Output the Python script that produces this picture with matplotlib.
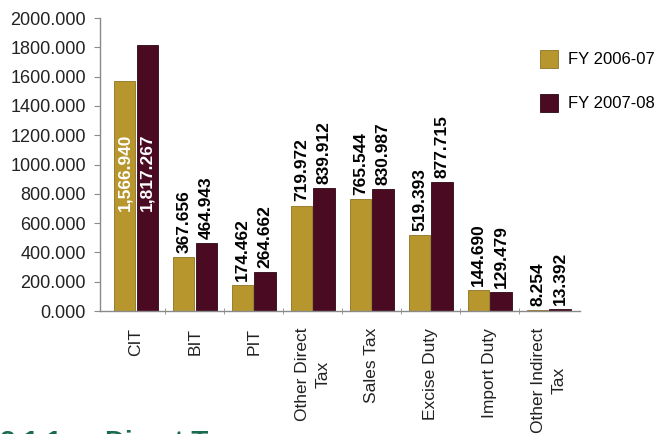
import matplotlib.pyplot as plt
import numpy as np

plt.rcParams['font.family'] = ['Liberation Sans', 'DejaVu Sans']

categories = ['CIT', 'BIT', 'PIT', 'Other Direct\nTax', 'Sales Tax',
              'Excise Duty', 'Import Duty', 'Other Indirect\nTax']
fy0607 = [1566.940, 367.656, 174.462, 719.972, 765.544, 519.393, 144.690, 8.254]
fy0708 = [1817.267, 464.943, 264.662, 839.912, 830.987, 877.715, 129.479, 13.392]
series_names = ['FY 2006-07', 'FY 2007-08']
yticks = np.arange(0, 2001, 200)

gold = '#b8962e'
maroon = '#4a0b22'
axis_grey = '#8a8a8a'


def label_bars(ax, x, vals):
  for xi, v in zip(x, vals):
    txt = f'{v:,.3f}'
    if v > 1200:
      # too tall to fit above, put it inside in white
      ax.text(xi, 1210, txt, rotation=90, ha='center', va='top',
              color='white', fontsize=12.5, fontweight='bold')
    else:
      ax.annotate(txt, (xi, v), xytext=(0, 3), textcoords='offset points',
                  rotation=90, ha='center', va='bottom',
                  color='black', fontsize=12.5, fontweight='bold')


def main():
  fig = plt.figure(figsize=(6.64, 4.34), dpi=100)
  ax = fig.add_axes([0.1506, 0.2834, 0.7229, 0.6751])

  x = np.arange(len(categories))
  w = 0.36
  b1 = ax.bar(x - 0.19, fy0607, w, color=gold, edgecolor='#8f7222', linewidth=0.6,
              label=series_names[0])
  b2 = ax.bar(x + 0.19, fy0708, w, color=maroon, edgecolor='#2e0614', linewidth=0.6,
              label=series_names[1])
  label_bars(ax, x - 0.19, fy0607)
  label_bars(ax, x + 0.19, fy0708)

  ax.set_xlim(-0.61, 7.53)
  ax.set_ylim(0, 2000)
  ax.set_yticks(yticks)
  ax.set_yticklabels([f'{v:.3f}' for v in yticks], fontsize=13, color='#222222')
  ax.set_xticks(x)
  ax.set_xticklabels(categories, rotation=90, ha='center', va='top',
                     fontsize=12.5, color='#222222', linespacing=1.45)
  ax.set_xticks(x[:-1] + 0.5, minor=True)
  ax.tick_params(axis='x', which='major', length=0, pad=12)
  ax.tick_params(axis='x', which='minor', length=4, color=axis_grey, direction='inout')
  ax.tick_params(axis='y', length=4, color=axis_grey, pad=6)

  for s in ['top', 'right']:
    ax.spines[s].set_visible(False)
  for s in ['left', 'bottom']:
    ax.spines[s].set_color(axis_grey)
    ax.spines[s].set_linewidth(1.0)

  fig.legend(handles=[b1, b2], loc='upper left', bbox_to_anchor=(0.79, 0.92),
             frameon=False, fontsize=12, handlelength=1.1, handleheight=1.3,
             handletextpad=0.6, labelspacing=1.55)

  # section heading below, mostly cut off by the bottom edge
  fig.text(0.0, -0.037, '2.1.1', ha='left', va='baseline',
           fontsize=20, fontweight='bold', color='#1b6b4e')
  fig.text(0.158, -0.037, 'Direct Tax', ha='left', va='baseline',
           fontsize=20, fontweight='bold', color='#1b6b4e')

  fig.savefig('out.png', dpi=100)


if __name__ == '__main__':
  main()
